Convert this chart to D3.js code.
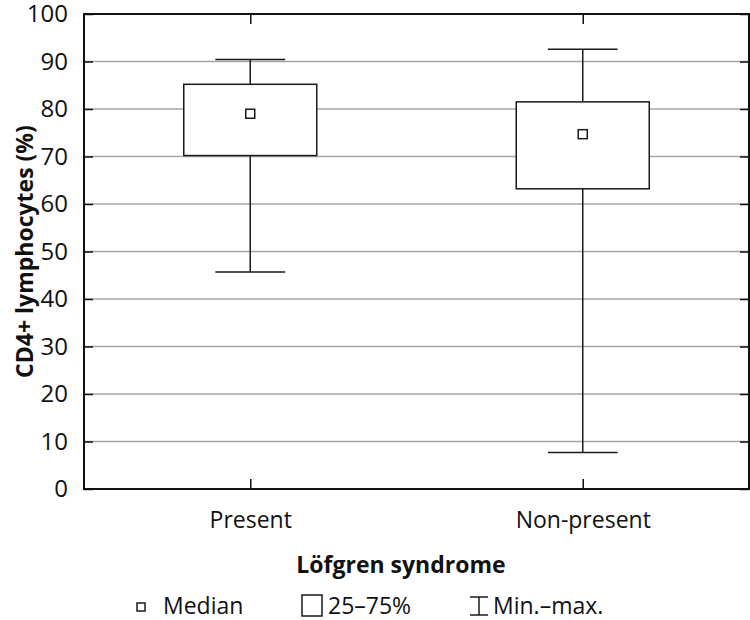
<!DOCTYPE html>
<html>
<head>
<meta charset="utf-8">
<script src="https://cdn.jsdelivr.net/npm/d3@7/dist/d3.min.js"></script>
<style>
  body { margin: 0; background: #fff; }
  svg { display: block; }
  text { font-family: "Open Sans", "Noto Sans", sans-serif; fill: #111; }
</style>
</head>
<body>
<svg id="chart" width="750" height="620"></svg>
<script>
const categories = ["Present", "Non-present"];
const mins    = [45.7, 7.7];
const q1s     = [70.2, 63.2];
const medians = [79.0, 74.7];
const q3s     = [85.2, 81.5];
const maxs    = [90.4, 92.6];
const yTicks  = [0, 10, 20, 30, 40, 50, 60, 70, 80, 90, 100];
const yTitle  = "CD4+ lymphocytes (%)";
const xTitle  = "Löfgren syndrome";
const legendLabels = ["Median", "25–75%", "Min.–max."];

const svg = d3.select("#chart");
const L = 84, R = 749, T = 14, B = 489;

const x = d3.scalePoint().domain(categories).range([L, R]).padding(0.5);
const y = d3.scaleLinear().domain([0, 100]).range([B, T]);
const step = x.step();
const boxW = step * 0.4;
const capW = step * 0.21;

// gridlines
svg.append("g").selectAll("line")
  .data(yTicks.filter(t => t > 0 && t < 100))
  .join("line")
  .attr("x1", L).attr("x2", R)
  .attr("y1", d => y(d)).attr("y2", d => y(d))
  .attr("stroke", "#a6a6a6").attr("stroke-width", 1.5);

// left axis with inward ticks
const yAxisL = d3.axisLeft(y).tickValues(yTicks).tickSize(-9).tickPadding(16);
const gL = svg.append("g").attr("transform", `translate(${L},0)`).call(yAxisL);
gL.select(".domain").remove();
gL.selectAll(".tick line").attr("stroke", "#111").attr("stroke-width", 1.5);
gL.selectAll(".tick text").attr("font-size", 24).attr("font-family", "'Open Sans', sans-serif").attr("fill", "#111");

// right axis inward ticks
const yAxisR = d3.axisRight(y).tickValues(yTicks).tickSize(-9).tickFormat("");
const gR = svg.append("g").attr("transform", `translate(${R},0)`).call(yAxisR);
gR.select(".domain").remove();
gR.selectAll(".tick line").attr("stroke", "#111").attr("stroke-width", 1.5);

// bottom axis inward ticks with labels
const xAxisB = d3.axisBottom(x).tickSize(-10).tickPadding(23);
const gB = svg.append("g").attr("transform", `translate(0,${B})`).call(xAxisB);
gB.select(".domain").remove();
gB.selectAll(".tick line").attr("stroke", "#111").attr("stroke-width", 1.5);
gB.selectAll(".tick text").attr("font-size", 23).attr("font-family", "'Open Sans', sans-serif").attr("fill", "#111");

// top axis inward ticks
const xAxisT = d3.axisTop(x).tickSize(-10).tickFormat("");
const gT = svg.append("g").attr("transform", `translate(0,${T})`).call(xAxisT);
gT.select(".domain").remove();
gT.selectAll(".tick line").attr("stroke", "#111").attr("stroke-width", 1.5);

// frame
svg.append("rect").attr("x", L).attr("y", T).attr("width", R - L).attr("height", B - T)
  .attr("fill", "none").attr("stroke", "#111").attr("stroke-width", 2);

// boxes
const data = categories.map((c, i) => ({ c, min: mins[i], q1: q1s[i], med: medians[i], q3: q3s[i], max: maxs[i] }));
const g = svg.append("g").selectAll("g").data(data).join("g");
const stroke = "#1a1a1a";
// whiskers
g.append("line").attr("x1", d => x(d.c)).attr("x2", d => x(d.c))
  .attr("y1", d => y(d.max)).attr("y2", d => y(d.q3)).attr("stroke", stroke).attr("stroke-width", 1.5);
g.append("line").attr("x1", d => x(d.c)).attr("x2", d => x(d.c))
  .attr("y1", d => y(d.q1)).attr("y2", d => y(d.min)).attr("stroke", stroke).attr("stroke-width", 1.5);
g.append("line").attr("x1", d => x(d.c) - capW / 2).attr("x2", d => x(d.c) + capW / 2)
  .attr("y1", d => y(d.max)).attr("y2", d => y(d.max)).attr("stroke", stroke).attr("stroke-width", 1.5);
g.append("line").attr("x1", d => x(d.c) - capW / 2).attr("x2", d => x(d.c) + capW / 2)
  .attr("y1", d => y(d.min)).attr("y2", d => y(d.min)).attr("stroke", stroke).attr("stroke-width", 1.5);
// box
g.append("rect").attr("x", d => x(d.c) - boxW / 2).attr("width", boxW)
  .attr("y", d => y(d.q3)).attr("height", d => y(d.q1) - y(d.q3))
  .attr("fill", "#fff").attr("stroke", stroke).attr("stroke-width", 1.5);
// median square
g.append("rect").attr("x", d => x(d.c) - 4.5).attr("y", d => y(d.med) - 4.5)
  .attr("width", 9).attr("height", 9).attr("fill", "#fff").attr("stroke", stroke).attr("stroke-width", 1.5);

// titles
svg.append("text").attr("transform", `translate(33,${(T + B) / 2}) rotate(-90)`)
  .attr("text-anchor", "middle").attr("font-size", 23).attr("font-weight", "bold").text(yTitle);
svg.append("text").attr("x", 401).attr("y", 573)
  .attr("text-anchor", "middle").attr("font-size", 23).attr("font-weight", "bold").text(xTitle);

// legend
const lg = svg.append("g");
lg.append("rect").attr("x", 137).attr("y", 603).attr("width", 8).attr("height", 8)
  .attr("fill", "#fff").attr("stroke", stroke).attr("stroke-width", 1.5);
lg.append("text").attr("x", 163).attr("y", 614).attr("font-size", 23).text(legendLabels[0]);
lg.append("rect").attr("x", 302).attr("y", 595).attr("width", 20).attr("height", 21)
  .attr("fill", "#fff").attr("stroke", stroke).attr("stroke-width", 1.5);
lg.append("text").attr("x", 328).attr("y", 614).attr("font-size", 23).text(legendLabels[1]);
lg.append("line").attr("x1", 479).attr("x2", 479).attr("y1", 597).attr("y2", 615).attr("stroke", stroke).attr("stroke-width", 1.5);
lg.append("line").attr("x1", 470).attr("x2", 488).attr("y1", 597).attr("y2", 597).attr("stroke", stroke).attr("stroke-width", 1.5);
lg.append("line").attr("x1", 470).attr("x2", 488).attr("y1", 615).attr("y2", 615).attr("stroke", stroke).attr("stroke-width", 1.5);
lg.append("text").attr("x", 493).attr("y", 614).attr("font-size", 23).text(legendLabels[2]);
</script>
</body>
</html>
